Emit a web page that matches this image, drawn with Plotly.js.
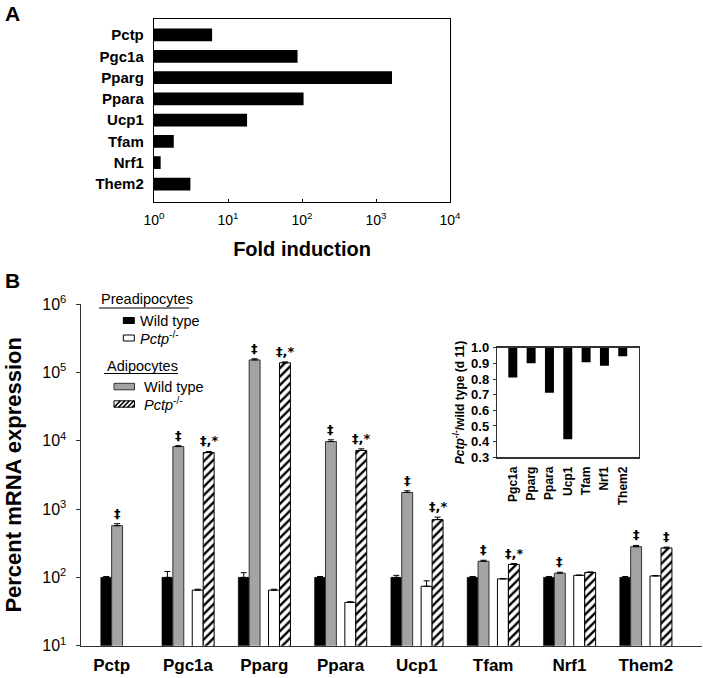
<!DOCTYPE html>
<html><head><meta charset="utf-8">
<script src="https://cdn.plot.ly/plotly-3.0.1.min.js"></script>
<style>html,body{margin:0;padding:0;background:#fff;} #chart{width:703px;height:678px;}</style>
</head><body><div id="chart"></div>
<script>
// ---------- Panel A data ----------
const genesA = ['Pctp','Pgc1a','Pparg','Ppara','Ucp1','Tfam','Nrf1','Them2'];
const foldInduction = [6.1, 87, 1645, 105, 18.1, 1.85, 1.23, 3.1];
const foldTickVals = [1, 10, 100, 1000, 10000];
const foldTickText = ['10<sup>0</sup>','10<sup>1</sup>','10<sup>2</sup>','10<sup>3</sup>','10<sup>4</sup>'];

// ---------- Panel B data ----------
const genesB = ['Pctp','Pgc1a','Pparg','Ppara','Ucp1','Tfam','Nrf1','Them2'];
const preWT     = [100, 100, 100, 100, 100, 100, 100, 100];
const preWTErr  = [3, 22, 17, 3, 7, 3, 3, 3];
const preKO     = [null, 65, 65, 43, 74, 95, 107, 105];
const preKOErr  = [null, 2, 2, 1, 15, 1, 1, 1];
const adiWT     = [570, 8200, 152000, 9700, 1750, 172, 115, 281];
const adiWTErr  = [40, 250, 6000, 600, 100, 6, 4, 12];
const adiKO     = [null, 6700, 138000, 7200, 700, 155, 118, 269];
const adiKOErr  = [null, 250, 4000, 400, 60, 4, 2, 8];
const sigAdiWT  = ['‡','‡','‡','‡','‡','‡','‡','‡'];
const sigAdiKO  = ['','‡,*','‡,*','‡,*','‡,*','‡,*','','‡'];
const bTickVals = [10, 100, 1000, 10000, 100000, 1000000];
const bTickText = ['10<sup>1</sup>','10<sup>2</sup>','10<sup>3</sup>','10<sup>4</sup>','10<sup>5</sup>','10<sup>6</sup>'];

// ---------- Inset data ----------
const genesInset = ['Pgc1a','Pparg','Ppara','Ucp1','Tfam','Nrf1','Them2'];
const ratioKOWT  = [0.81, 0.90, 0.713, 0.415, 0.907, 0.885, 0.945];

// ---------- helpers (layout only) ----------
const W = 703, H = 678;
const PX = v => v / W;
const PY = v => 1 - v / H;
const FONT = 'Liberation Sans, Arial, Helvetica, sans-serif';

const BW = 0.143;               // bar width in category units (panel B)
const offBlack = genesB.map((g, i) => i === 0 ? -0.143 : -0.341);
const offGray  = genesB.map((g, i) => i === 0 ? 0.0 : -0.198);
const offWhite = genesB.map(() => 0.056);
const offHatch = genesB.map(() => 0.200);
const GRAY = '#a3a3a3';

const zeros = n => new Array(n).fill(0);

const traces = [
  // Panel A
  { type:'bar', orientation:'h', x: foldInduction, y: genesA, xaxis:'x', yaxis:'y',
    width: 0.6, marker:{color:'#000'}, hoverinfo:'x+y' },
  // Panel B
  { type:'bar', name:'Preadipocytes Wild type', x: genesB, y: preWT, xaxis:'x2', yaxis:'y2',
    width: BW, offset: offBlack, marker:{color:'#000', line:{color:'#000', width:0.5}},
    error_y:{type:'data', symmetric:false, array: preWTErr, arrayminus: zeros(8), color:'#000', thickness:1, width:3} },
  { type:'bar', name:'Adipocytes Wild type', x: genesB, y: adiWT, xaxis:'x2', yaxis:'y2',
    width: BW, offset: offGray, marker:{color:GRAY, line:{color:'#333', width:1}},
    error_y:{type:'data', symmetric:false, array: adiWTErr, arrayminus: zeros(8), color:'#000', thickness:1, width:3} },
  { type:'bar', name:'Preadipocytes Pctp-/-', x: genesB, y: preKO, xaxis:'x2', yaxis:'y2',
    width: BW, offset: offWhite, marker:{color:'#fff', line:{color:'#000', width:1}},
    error_y:{type:'data', symmetric:false, array: preKOErr, arrayminus: zeros(8), color:'#000', thickness:1, width:3} },
  { type:'bar', name:'Adipocytes Pctp-/-', x: genesB, y: adiKO, xaxis:'x2', yaxis:'y2',
    width: BW, offset: offHatch,
    marker:{color:'#fff', line:{color:'#000', width:1},
            pattern:{shape:'/', fgcolor:'#000', bgcolor:'#fff', size:6, solidity:0.4}},
    error_y:{type:'data', symmetric:false, array: adiKOErr, arrayminus: zeros(8), color:'#000', thickness:1, width:3} },
  // Inset: bars hang down from 1.0
  { type:'bar', x: genesInset, y: ratioKOWT.map(r => r - 1), base: 1, xaxis:'x3', yaxis:'y3',
    width: 0.49, marker:{color:'#000'}, customdata: ratioKOWT, hovertemplate:'%{x}: %{customdata}<extra></extra>' }
];

// significance markers above adipocyte bars
const SIGFONT = {size:13, color:'#000000', family:'DejaVu Sans, Liberation Sans, sans-serif'};
const annotations = [];
genesB.forEach((g, i) => {
  if (sigAdiWT[i] && adiWT[i] != null) {
    annotations.push({ xref:'x2', yref:'y2', x: i + offGray[i] + BW/2,
      y: Math.log10(adiWT[i] + adiWTErr[i]), text: '<b>' + sigAdiWT[i] + '</b>', showarrow:false,
      yanchor:'bottom', yshift:1, font: SIGFONT });
  }
  if (sigAdiKO[i] && adiKO[i] != null) {
    annotations.push({ xref:'x2', yref:'y2', x: i + offHatch[i] + BW/2,
      y: Math.log10(adiKO[i] + adiKOErr[i]), text: '<b>' + sigAdiKO[i] + '</b>', showarrow:false,
      yanchor:'bottom', yshift:1, font: SIGFONT });
  }
});

// panel letters
annotations.push({ xref:'paper', yref:'paper', x: PX(3), y: PY(14), xanchor:'left', yanchor:'middle',
  text:'<b>A</b>', showarrow:false, font:{size:21} });
annotations.push({ xref:'paper', yref:'paper', x: PX(3), y: PY(280), xanchor:'left', yanchor:'middle',
  text:'<b>B</b>', showarrow:false, font:{size:21} });

// legend text for panel B
const legTxt = [
  ['Preadipocytes', 99, 299],
  ['Wild type', 137.5, 320.5],
  ['<i>Pctp</i><sup>-/-</sup>', 137.5, 338],
  ['Adipocytes', 105, 365.5],
  ['Wild type', 142, 386.5],
  ['<i>Pctp</i><sup>-/-</sup>', 142, 404]
];
legTxt.forEach(([t, x, y]) => annotations.push({ xref:'paper', yref:'paper', x: PX(x), y: PY(y),
  xanchor:'left', yanchor:'middle', text: t, showarrow:false, font:{size:14.5} }));

// legend swatches / underlines (shapes in paper coords)
const shapes = [
  { type:'line', xref:'paper', yref:'paper', x0:PX(99), x1:PX(189), y0:PY(308), y1:PY(308), line:{color:'#000', width:1.2} },
  { type:'rect', xref:'paper', yref:'paper', x0:PX(123.3), x1:PX(134.3), y0:PY(317.5), y1:PY(323.5), fillcolor:'#000', line:{color:'#000', width:1} },
  { type:'rect', xref:'paper', yref:'paper', x0:PX(123.3), x1:PX(134.3), y0:PY(335), y1:PY(341), fillcolor:'#fff', line:{color:'#000', width:1} },
  { type:'line', xref:'paper', yref:'paper', x0:PX(104), x1:PX(178), y0:PY(373.5), y1:PY(373.5), line:{color:'#000', width:1.2} },
  { type:'rect', xref:'paper', yref:'paper', x0:PX(114), x1:PX(134.5), y0:PY(383.3), y1:PY(389.8), fillcolor:GRAY, line:{color:'#333', width:1} },
  { type:'rect', xref:'paper', yref:'paper', x0:PX(114), x1:PX(134.5), y0:PY(400.8), y1:PY(407.2), fillcolor:'#fff', line:{color:'#000', width:1} }
];
// hatch strokes inside the hatched swatch
[114, 118.5, 123, 127.5, 132].forEach(x0 => {
  const x1 = Math.min(x0 + 6.4, 134.5);
  const yb = 407.2, yt = 407.2 - (x1 - x0);
  shapes.push({ type:'line', xref:'paper', yref:'paper', x0:PX(x0), x1:PX(x1), y0:PY(yb), y1:PY(yt), line:{color:'#000', width:1.6} });
});

const layout = {
  width: W, height: H, margin:{l:0, r:0, t:0, b:0},
  paper_bgcolor:'#fff', plot_bgcolor:'rgba(0,0,0,0)',
  showlegend:false, barmode:'overlay',
  font:{family: FONT, color:'#000'},
  // Panel A
  xaxis:{ domain:[PX(154), PX(450)], anchor:'y', type:'log', range:[0, 4],
    tickvals: foldTickVals, ticktext: foldTickText, ticks:'inside', ticklen:3, tickcolor:'#000',
    showline:true, mirror:true, linecolor:'#000', linewidth:1.2, showgrid:false, zeroline:false,
    tickfont:{size:14}, ticklabelstandoff:5,
    title:{text:'<b>Fold induction</b>', font:{size:20}, standoff:15} },
  yaxis:{ domain:[PY(201.7), PY(19)], anchor:'x', type:'category', range:[7.83, -0.75],
    showline:true, mirror:true, linecolor:'#000', linewidth:1.2, ticks:'', showgrid:false, zeroline:false,
    tickfont:{size:15, weight:'bold'}, ticklabelstandoff:6 },
  // Panel B
  xaxis2:{ domain:[PX(81), PX(702)], anchor:'y2', type:'category', range:[-0.402, 7.737],
    showline:true, linecolor:'#333', linewidth:1.5, ticks:'', showgrid:false, zeroline:false,
    tickfont:{size:17, weight:'bold'}, ticklabelstandoff:3 },
  yaxis2:{ domain:[PY(645.7), PY(304)], anchor:'x2', type:'log', range:[1, 6],
    tickvals: bTickVals, ticktext: bTickText, ticks:'outside', ticklen:4, tickcolor:'#333',
    showline:true, linecolor:'#333', linewidth:1.5, showgrid:false, zeroline:false,
    tickfont:{size:16}, ticklabelstandoff:6,
    title:{text:'<b>Percent mRNA expression</b>', font:{size:22}, standoff:14} },
  // Inset
  xaxis3:{ domain:[PX(497.3), PX(638.7)], anchor:'y3', type:'category', range:[-0.846, 6.87],
    showline:true, mirror:true, linecolor:'#333', linewidth:1.5, ticks:'', showgrid:false, zeroline:false,
    tickangle:-90, tickfont:{size:12, weight:'bold'}, ticklabelstandoff:3 },
  yaxis3:{ domain:[PY(457.3), PY(347.7)], anchor:'x3', range:[0.3, 1.0], dtick:0.1, tickformat:'.1f',
    ticks:'outside', ticklen:3, tickcolor:'#333',
    showline:true, mirror:true, linecolor:'#333', linewidth:1.5, showgrid:false, zeroline:false,
    tickfont:{size:13, weight:'bold'}, ticklabelstandoff:1,
    title:{text:'<b><i>Pctp</i><sup>-/-</sup>/wild type (d 11)</b>', font:{size:12}, standoff:4} },
  annotations, shapes
};

Plotly.newPlot('chart', traces, layout, {displayModeBar:false, staticPlot:true});
</script>
</body></html>
